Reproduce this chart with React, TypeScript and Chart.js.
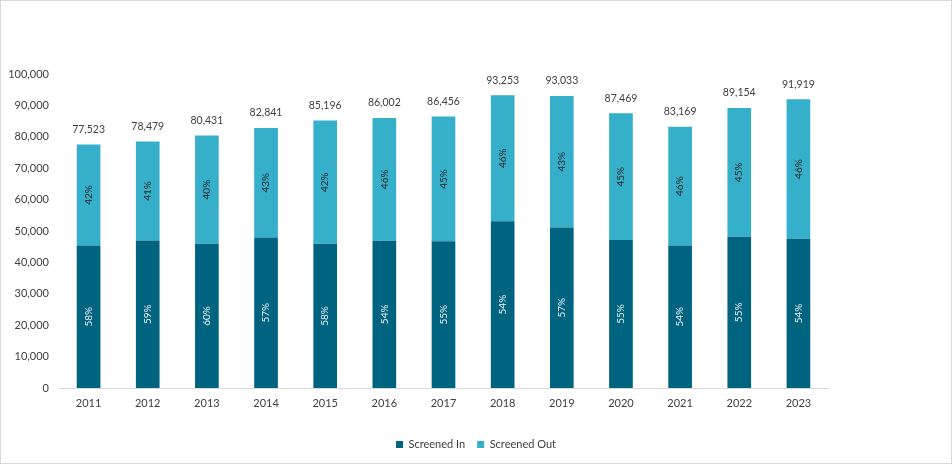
import React, { useEffect, useRef } from "react";
import { Chart, registerables } from "chart.js";

Chart.register(...registerables);

const years = ["2011", "2012", "2013", "2014", "2015", "2016", "2017", "2018", "2019", "2020", "2021", "2022", "2023"];
const screenedIn = [45400, 47000, 45900, 47900, 45900, 46900, 46700, 53100, 51100, 47100, 45400, 48200, 47500];
const screenedOut = [32123, 31479, 34531, 34941, 39296, 39102, 39756, 40153, 41933, 40369, 37769, 40954, 44419];
const totalLabels = [77523, 78479, 80431, 82841, 85196, 86002, 86456, 93253, 93033, 87469, 83169, 89154, 91919];
const inPctLabels = ["58%", "59%", "60%", "57%", "58%", "54%", "55%", "54%", "57%", "55%", "54%", "55%", "54%"];
const outPctLabels = ["42%", "41%", "40%", "43%", "42%", "46%", "45%", "46%", "43%", "45%", "46%", "45%", "46%"];

const DARK = "#00637F";
const LIGHT = "#36AFCA";
const FONT = "Lato, 'Open Sans', sans-serif";

const labelPlugin = {
  id: "barLabels",
  afterDatasetsDraw(chart: any) {
    const ctx = chart.ctx;
    const pctSets = [inPctLabels, outPctLabels];
    const colors = ["#EAF3F6", "#262626"];
    ctx.save();
    chart.data.datasets.forEach((_: any, di: number) => {
      const meta = chart.getDatasetMeta(di);
      meta.data.forEach((el: any, i: number) => {
        const cy = (el.y + el.base) / 2;
        ctx.save();
        ctx.translate(el.x, cy);
        ctx.rotate(-Math.PI / 2);
        ctx.font = `10px ${FONT}`;
        ctx.fillStyle = colors[di];
        ctx.textAlign = "center";
        ctx.textBaseline = "middle";
        ctx.fillText(pctSets[di][i], 0, 0);
        ctx.restore();
      });
    });
    const last = chart.getDatasetMeta(chart.data.datasets.length - 1);
    last.data.forEach((el: any, i: number) => {
      ctx.font = `10.5px ${FONT}`;
      ctx.fillStyle = "#404040";
      ctx.textAlign = "center";
      ctx.textBaseline = "middle";
      ctx.fillText(totalLabels[i].toLocaleString("en-US"), el.x, el.y - 15);
    });
    ctx.restore();
  },
};

export default function App() {
  const ref = useRef<HTMLCanvasElement | null>(null);
  useEffect(() => {
    document.body.style.margin = "0";
    if (!ref.current) return;
    const chart = new Chart(ref.current, {
      type: "bar",
      data: {
        labels: years,
        datasets: [
          { label: "Screened In", data: screenedIn, backgroundColor: DARK, barPercentage: 0.4, categoryPercentage: 1 },
          { label: "Screened Out", data: screenedOut, backgroundColor: LIGHT, barPercentage: 0.4, categoryPercentage: 1 },
        ],
      },
      options: {
        animation: false,
        responsive: false,
        maintainAspectRatio: false,
        layout: { padding: { left: 0, right: 0, top: 73, bottom: 3 } },
        plugins: {
          legend: {
            position: "bottom",
            labels: {
              boxWidth: 7,
              boxHeight: 7,
              padding: 12,
              color: "#404040",
              font: { family: FONT, size: 11 },
            },
          },
          tooltip: { enabled: false },
        },
        scales: {
          x: {
            stacked: true,
            grid: { display: false, drawTicks: false },
            border: { display: true, color: "#D9D9D9", width: 1 },
            ticks: { color: "#404040", font: { family: FONT, size: 11 }, padding: 9 },
            afterFit: (s: any) => {
              s.height = 39;
            },
          },
          y: {
            stacked: true,
            min: 0,
            max: 100000,
            grid: { display: false, drawTicks: false },
            border: { display: false },
            ticks: {
              stepSize: 10000,
              color: "#404040",
              font: { family: FONT, size: 11 },
              padding: 10,
              callback: (v: any) => Number(v).toLocaleString("en-US"),
            },
            afterFit: (s: any) => {
              s.width = 58;
            },
          },
          spacer: {
            type: "linear",
            position: "right",
            display: true,
            grid: { display: false, drawTicks: false },
            border: { display: false },
            ticks: { display: false },
            afterFit: (s: any) => {
              s.width = 123;
            },
          },
        },
      },
      plugins: [labelPlugin],
    });
    return () => chart.destroy();
  }, []);
  return (
    <div style={{ width: 952, height: 464, border: "1px solid #D9D9D9", boxSizing: "border-box", background: "#fff" }}>
      <canvas ref={ref} width={950} height={462} style={{ display: "block" }} />
    </div>
  );
}
